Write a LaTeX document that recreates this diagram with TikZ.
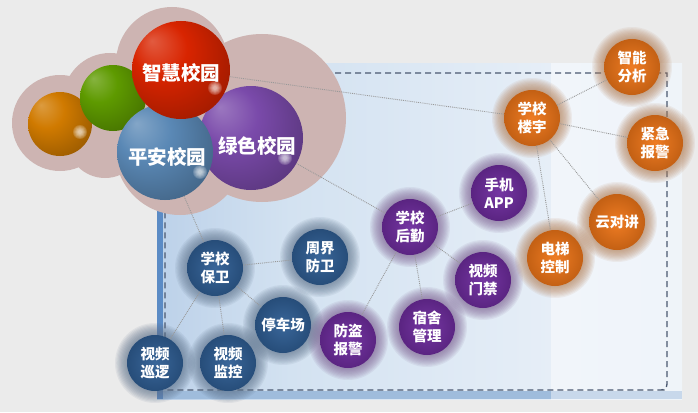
\documentclass[tikz,border=0pt]{standalone}
\usepackage{fontspec}
\newfontfamily\cjk{Noto Sans CJK SC}
\definecolor{bg}{HTML}{EBEBEB}
\definecolor{cloud}{HTML}{CDB4B2}
\definecolor{panelA}{HTML}{BCD1E9}
\definecolor{panelB}{HTML}{D3E2F1}
\definecolor{panelC}{HTML}{E6EEF7}
\definecolor{panelD}{HTML}{F1F5FA}
\definecolor{bar}{HTML}{5B8BC5}
\definecolor{strip}{HTML}{9FBCDC}
\definecolor{dash}{HTML}{4A5870}
\definecolor{nb}{HTML}{2F5E94}
\definecolor{np}{HTML}{6E2C9E}
\definecolor{no}{HTML}{EE7518}
\definecolor{sRed}{HTML}{D82400}
\definecolor{sBlue}{HTML}{5A88B5}
\definecolor{sPurple}{HTML}{7A4AAA}
\definecolor{sGreen}{HTML}{5E9A00}
\definecolor{sOrange}{HTML}{D07A00}
\makeatletter
\pgfdeclareradialshading[tikz@ball]{sphere}{\pgfqpoint{-15bp}{15bp}}{color(0bp)=(tikz@ball!75!white); color(14bp)=(tikz@ball); color(36bp)=(tikz@ball!72!black); color(50bp)=(tikz@ball!55!black)}
\tikzset{sphere color/.code={\pgfutil@colorlet{tikz@ball}{#1}\def\tikz@shading{sphere}\tikz@addmode{\tikz@mode@shadetrue}}}
\makeatother
\tikzset{
  bigball/.style={circle, inner sep=0pt},
  bigtext/.style={text=white, font=\cjk\bfseries\fontsize{19.5}{21}\selectfont},
  smallnode/.style={circle, inner sep=0pt, minimum size=56pt, text=white, align=center, font=\cjk\bfseries\fontsize{14.5}{18}\selectfont},
  conn/.style={draw=gray!80, line width=0.9pt, densely dotted},
  dashborder/.style={draw=dash, line width=1.3pt, dash pattern=on 6pt off 4pt}
}
\begin{document}
\begin{tikzpicture}[x=1pt,y=-1pt]
\fill[bg] (0,0) rectangle (698,412);
\useasboundingbox (0,0) rectangle (698,412);
% panel
\shade[left color=panelA, right color=panelB] (157,63) rectangle (290,399);
\shade[left color=panelB, right color=panelC] (290,63) rectangle (551,399);
\shade[left color=panelD, right color=panelD!80!panelC] (551,63) rectangle (682,399);
\fill[strip] (157,391) rectangle (551,399);
\fill[strip!50!panelD] (551,391) rectangle (682,399);
\fill[bar] (157,210) rectangle (163,399);
\draw[dashborder] (165,73) -- (667,73) -- (667,383) [rounded corners=6pt] -- (667,390) -- (660,390) [sharp corners] -- (165,390) -- cycle;
% cloud
\fill[cloud] (60,123) circle (48) (110,100) circle (47) (105,140) circle (38)
  (172,63) circle (56) (262,118) circle (84) (180,150) circle (65);
% big spheres
\node[bigball, minimum size=64pt, sphere color=sOrange] (og) at (60,124) {};
\node[bigball, minimum size=66pt, sphere color=sGreen] (gr) at (113,98) {};
\node[bigball, minimum size=104pt, sphere color=sPurple] (ls) at (251,138) {};
\node[bigball, minimum size=96pt, sphere color=sBlue] (pa) at (165,152) {};
\node[bigball, minimum size=98pt, sphere color=sRed] (zh) at (181,70) {};
\node[bigtext] (zhT) at (181,73) {智慧校园};
\node[bigtext] (paT) at (167,157) {平安校园};
\node[bigtext] (lsT) at (257,146) {绿色校园};
\foreach \gx/\gy in {80/132, 215/88, 200/172, 285/158}
  \foreach \k in {1,...,6}
    \fill[white, fill opacity=0.16] (\gx,\gy) circle ({1+\k});
% small nodes
\foreach \n/\x/\y/\c/\t in {
  bw/215/268/nb/{学校\\保卫}, zj/320/257/nb/{周界\\防卫}, tc/283/325/nb/{停车场},
  xl/155/363/nb/{视频\\巡逻}, jk/228/363/nb/{视频\\监控},
  hq/410/227/np/{学校\\后勤}, app/499/193/np/{手机\\APP}, mj/483/280/np/{视频\\门禁},
  ss/427/327/np/{宿舍\\管理}, fd/348/340/np/{防盗\\报警},
  ly/532/118/no/{学校\\楼宇}, zn/632/67/no/{智能\\分析}, jj/655/143/no/{紧急\\报警},
  yd/617/222/no/{云对讲}, dt/555/258/no/{电梯\\控制}} {
  \foreach \k in {1,...,10}
    \fill[\c!45!gray, fill opacity=0.09] (\x,\y) circle ({28+1.2*\k});
  \node[smallnode, shade, inner color=\c!95!white, outer color=\c!82!black] (\n) at (\x,\y) {\t};
}
% connectors
\draw[conn] (zh) -- (ly);
\draw[conn] (ls) -- (hq);
\draw[conn] (pa) -- (bw);
\draw[conn] (ly) -- (zn);
\draw[conn] (ly) -- (jj);
\draw[conn] (ly) -- (yd);
\draw[conn] (ly) -- (dt);
\draw[conn] (hq) -- (app);
\draw[conn] (hq) -- (mj);
\draw[conn] (hq) -- (ss);
\draw[conn] (hq) -- (fd);
\draw[conn] (bw) -- (zj);
\draw[conn] (bw) -- (tc);
\draw[conn] (bw) -- (jk);
\draw[conn] (bw) -- (xl);
\end{tikzpicture}
\end{document}
